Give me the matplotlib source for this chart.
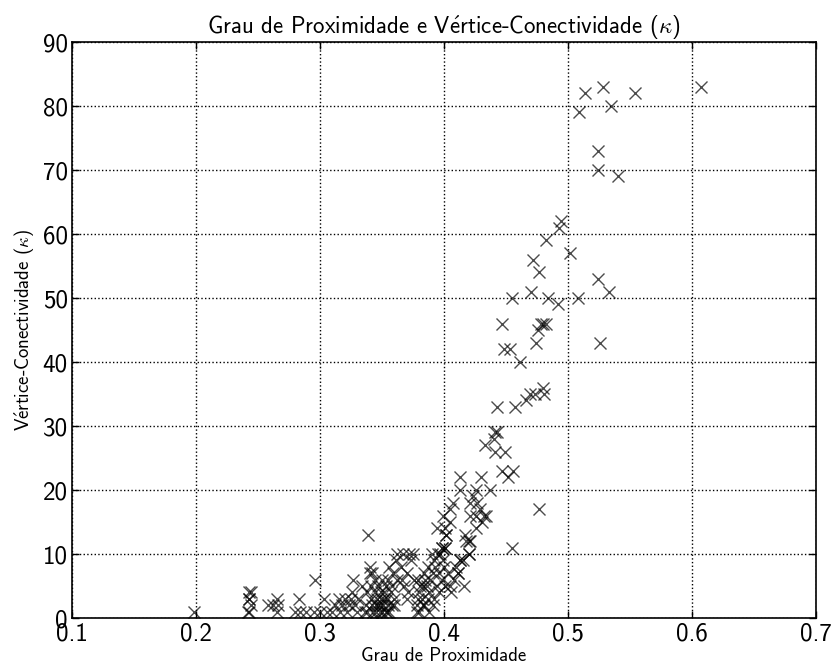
# -*- coding: utf-8 -*-
"""Dispersao do grau de proximidade contra a vertice-conectividade."""

import matplotlib
matplotlib.use('Agg')
from matplotlib import pyplot as plt

plt.rcParams['font.family'] = ['cmss10', 'DejaVu Sans']
plt.rcParams['mathtext.fontset'] = 'cm'
plt.rcParams['axes.unicode_minus'] = False

# grau de proximidade (x) e vertice-conectividade (y) de cada no
prox_baixo = [0.198,
              0.243, 0.243, 0.243, 0.244, 0.242, 0.243, 0.244,
              0.258, 0.262, 0.265, 0.266, 0.265,
              0.280, 0.283, 0.284, 0.289, 0.295, 0.296, 0.303, 0.300,
              0.306, 0.310, 0.312, 0.315, 0.316,
              0.318, 0.320, 0.322, 0.323, 0.325, 0.326, 0.327, 0.328,
              0.330, 0.331, 0.334]
kappa_baixo = [1,
               4, 3, 3, 2, 1, 1, 4,
               2, 2, 3, 2, 1,
               1, 3, 1, 1, 1, 6, 3, 1,
               1, 1, 2, 3, 1,
               2, 3, 1, 2, 3, 4, 6, 2,
               1, 3, 5]

prox_denso = [0.336, 0.337, 0.338, 0.339, 0.340, 0.340, 0.342, 0.341,
              0.342, 0.343, 0.344, 0.345, 0.345, 0.346, 0.347, 0.348,
              0.348, 0.349, 0.350, 0.350, 0.351, 0.352, 0.353, 0.353,
              0.354, 0.355, 0.355, 0.356, 0.357, 0.358, 0.359, 0.360,
              0.360, 0.361, 0.362, 0.338, 0.344, 0.347, 0.352, 0.356,
              0.341, 0.349, 0.354, 0.358, 0.346]
kappa_denso = [1, 2, 1, 13, 8, 7, 7, 3,
               2, 1, 4, 2, 1, 3, 5, 1,
               2, 3, 6, 1, 2, 4, 1, 5,
               3, 2, 6, 1, 4, 5, 7, 3,
               2, 9, 6, 4, 6, 2, 3, 8,
               5, 4, 1, 2, 0]

prox_medio = [0.362, 0.365, 0.367, 0.368, 0.370, 0.371, 0.372, 0.373,
              0.375, 0.376, 0.378, 0.378, 0.379, 0.380, 0.381, 0.382,
              0.383, 0.384, 0.385, 0.386, 0.387, 0.388, 0.389, 0.390,
              0.391, 0.392, 0.393, 0.394, 0.395, 0.396, 0.397, 0.398,
              0.398, 0.399, 0.400, 0.401, 0.401, 0.402, 0.403, 0.405,
              0.406, 0.408, 0.410, 0.411, 0.413, 0.415, 0.418, 0.420,
              0.421, 0.416, 0.380, 0.384, 0.388, 0.392, 0.396, 0.379,
              0.383, 0.387, 0.391, 0.370, 0.366]
kappa_medio = [10, 8, 10, 5, 7, 4, 10, 9,
               10, 6, 2, 1, 3, 4, 5, 3,
               2, 7, 6, 5, 8, 4, 6, 10,
               7, 9, 8, 5, 10, 7, 10, 6,
               11, 9, 8, 11, 5, 13, 7, 5,
               4, 6, 8, 7, 9, 9, 12, 10,
               12, 5, 1, 2, 1, 3, 4, 6,
               5, 3, 2, 3, 6]

prox_subida = [0.407, 0.405, 0.399, 0.405, 0.394, 0.401, 0.402, 0.413,
               0.413, 0.417, 0.420, 0.421, 0.426, 0.434, 0.429, 0.432,
               0.431, 0.426, 0.426, 0.423, 0.427, 0.421, 0.430, 0.437,
               0.433, 0.441, 0.443, 0.440, 0.441, 0.449, 0.447, 0.456,
               0.452, 0.443, 0.457, 0.455, 0.398, 0.401, 0.413, 0.411,
               0.420, 0.466, 0.469, 0.473, 0.480, 0.481, 0.477]
kappa_subida = [18, 17, 16, 15, 14, 14, 13, 22,
                20, 13, 12, 16, 16, 16, 17, 16,
                15, 14, 20, 19, 18, 18, 22, 20,
                27, 29, 29, 28, 26, 26, 23, 23,
                22, 33, 33, 11, 11, 11, 9, 7,
                10, 34, 35, 35, 36, 35, 17]

prox_alto = [0.607, 0.528, 0.514, 0.554, 0.535, 0.509, 0.524, 0.524,
             0.540, 0.494, 0.493, 0.482, 0.502, 0.472, 0.477, 0.524,
             0.470, 0.533, 0.455, 0.484, 0.508, 0.492, 0.447, 0.478,
             0.480, 0.482, 0.476, 0.474, 0.526, 0.448, 0.453, 0.461]
kappa_alto = [83, 83, 82, 82, 80, 79, 73, 70,
              69, 62, 61, 59, 57, 56, 54, 53,
              51, 51, 50, 50, 50, 49, 46, 46,
              46, 46, 45, 43, 43, 42, 42, 40]

prox = prox_baixo + prox_denso + prox_medio + prox_subida + prox_alto
kappa = kappa_baixo + kappa_denso + kappa_medio + kappa_subida + kappa_alto

# a cmss10 nao tem o e acentuado: o acento sai pelo mathtext
VERTICE = r'V$\mathsf{\acute{e}}$rtice'

fig = plt.figure(figsize=(8.36, 6.69), dpi=100)
ax = fig.add_axes([0.0861, 0.0762, 0.89, 0.861])

ax.plot(prox, kappa, 'x', color='k', alpha=0.7, markersize=8,
        markeredgewidth=1.0)

ax.set_xlim(0.1, 0.7)
ax.set_ylim(0, 90)
ax.set_xticks([0.1, 0.2, 0.3, 0.4, 0.5, 0.6, 0.7])
ax.set_yticks(range(0, 91, 10))
ax.grid(True, color='k', linestyle=':', linewidth=1.0)
ax.tick_params(direction='in', top=True, right=True, labelsize=18,
               length=5, width=1, pad=3)
for spine in ax.spines.values():
    spine.set_linewidth(1.2)

ax.set_title('Grau de Proximidade e ' + VERTICE + r'-Conectividade ($\kappa$)',
             fontsize=16.5)
ax.set_xlabel('Grau de Proximidade', fontsize=13.5, labelpad=1)
ax.set_ylabel(VERTICE + r'-Conectividade ($\kappa$)', fontsize=13.5)

fig.savefig('out.png', dpi=100)
